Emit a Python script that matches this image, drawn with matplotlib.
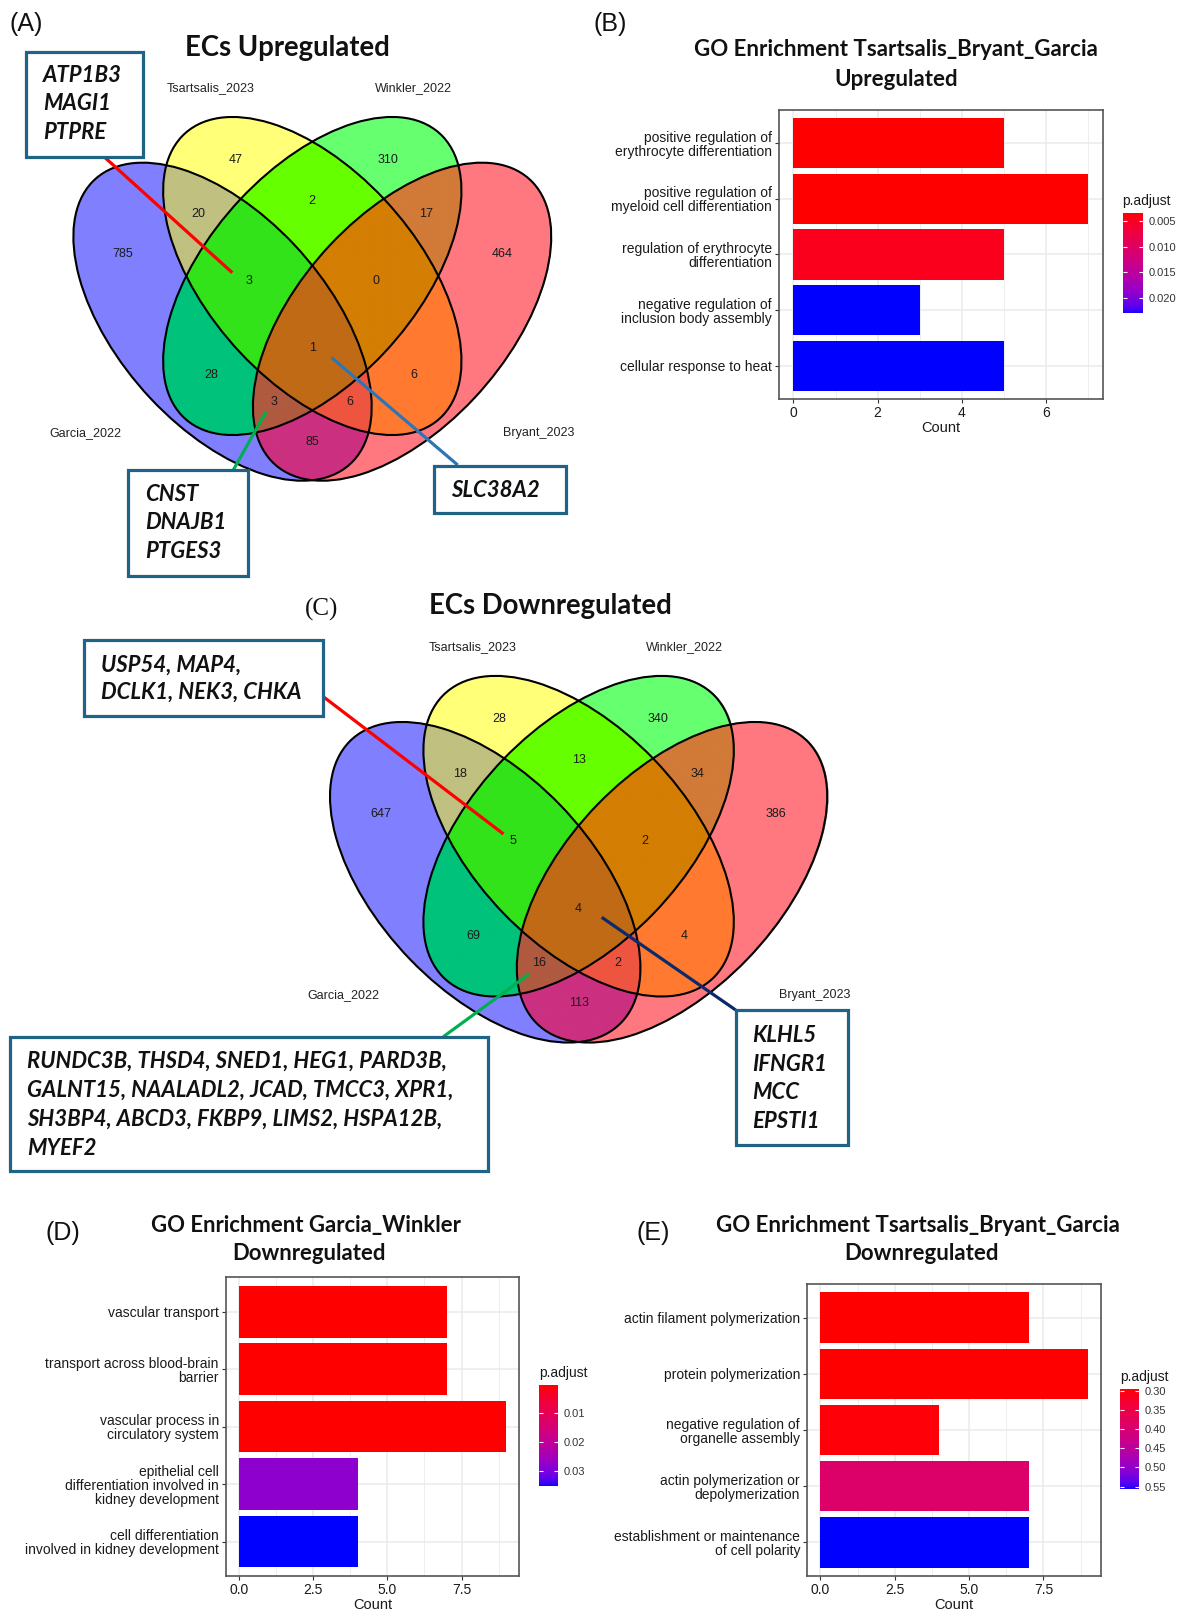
import numpy as np
import matplotlib
matplotlib.use("Agg")
import matplotlib.pyplot as plt
from matplotlib.patches import Ellipse, Rectangle
from matplotlib.colors import ListedColormap, Normalize, to_rgb
from matplotlib.cm import ScalarMappable

W, H = 1177, 1610

# ---------------------------------------------------------------- data
set_keys = ["G", "T", "W", "B"]
set_names = ["Garcia_2022", "Tsartsalis_2023", "Winkler_2022", "Bryant_2023"]
region_keys = ["G", "T", "W", "B", "GT", "TW", "WB", "GW", "TB", "GB",
               "GTW", "TWB", "GWB", "GTB", "GTWB"]
up_counts = [785, 47, 310, 464, 20, 2, 17, 28, 6, 85, 3, 0, 3, 6, 1]
down_counts = [647, 28, 340, 386, 18, 13, 34, 69, 4, 113, 5, 2, 16, 2, 4]

up_genes_gtw = ["ATP1B3", "MAGI1", "PTPRE"]
up_genes_gwb = ["CNST", "DNAJB1", "PTGES3"]
up_genes_all = ["SLC38A2"]
down_genes_gtw = ["USP54", "MAP4", "DCLK1", "NEK3", "CHKA"]
down_genes_gwb = ["RUNDC3B", "THSD4", "SNED1", "HEG1", "PARD3B",
                  "GALNT15", "NAALADL2", "JCAD", "TMCC3", "XPR1",
                  "SH3BP4", "ABCD3", "FKBP9", "LIMS2", "HSPA12B", "MYEF2"]
down_genes_all = ["KLHL5", "IFNGR1", "MCC", "EPSTI1"]

go_up_terms = ["positive regulation of\nerythrocyte differentiation",
               "positive regulation of\nmyeloid cell differentiation",
               "regulation of erythrocyte\ndifferentiation",
               "negative regulation of\ninclusion body assembly",
               "cellular response to heat"]
go_up_count = [5, 7, 5, 3, 5]
go_up_padj = [0.0034, 0.0034, 0.0046, 0.0231, 0.0231]

go_gw_terms = ["vascular transport",
               "transport across blood-brain\nbarrier",
               "vascular process in\ncirculatory system",
               "epithelial cell\ndifferentiation involved in\nkidney development",
               "cell differentiation\ninvolved in kidney development"]
go_gw_count = [7, 7, 9, 4, 4]
go_gw_padj = [0.0004, 0.0004, 0.0004, 0.028, 0.035]

go_tbg_terms = ["actin filament polymerization",
                "protein polymerization",
                "negative regulation of\norganelle assembly",
                "actin polymerization or\ndepolymerization",
                "establishment or maintenance\nof cell polarity"]
go_tbg_count = [7, 9, 4, 7, 7]
go_tbg_padj = [0.296, 0.296, 0.30, 0.39, 0.557]

# ---------------------------------------------------------------- styling
region_colors = {"G": "#8080FF", "T": "#FFFF78", "W": "#66FF70", "B": "#FF7880",
                 "GT": "#C0C080", "TW": "#66FF00", "WB": "#D27A38", "GW": "#00C27A",
                 "TB": "#FF7A30", "GB": "#CC3080", "GTW": "#33E31A", "TWB": "#D47E04",
                 "GWB": "#B05A40", "GTB": "#EE5540", "GTWB": "#C06A16"}

# four-ellipse layout (diagram units)
ELL_DX, ELL_DY, ELL_TILT = 0.957, -0.457, 45.0
ell_center = {"G": (-ELL_DX, ELL_DY), "T": (0.0, 0.0), "W": (0.0, 0.0), "B": (ELL_DX, ELL_DY)}
ell_angle = {"G": -ELL_TILT, "T": -ELL_TILT, "W": ELL_TILT, "B": ELL_TILT}
SEMI_A, SEMI_B = 1.97, 1.085
label_pos = {"G": (-2.024, 0.22), "T": (-0.812, 1.16), "W": (0.812, 1.16), "B": (2.024, 0.22),
             "GT": (-1.218, 0.62), "TW": (0.0, 0.753), "WB": (1.218, 0.62),
             "GTW": (-0.676, -0.047), "TWB": (0.676, -0.047), "GTWB": (0.0, -0.723),
             "GW": (-1.078, -0.99), "TB": (1.078, -0.99),
             "GWB": (-0.404, -1.257), "GTB": (0.404, -1.257), "GB": (0.0, -1.657)}
set_label_pos = {"G": (-2.415, -1.573), "T": (-1.082, 1.877),
                 "W": (1.082, 1.877), "B": (2.415, -1.573)}

BOX_EC = "#1F6386"
SANS = ["Liberation Sans", "DejaVu Sans"]
TITLE_FONT = ["Lato", "DejaVu Sans"]

fig = plt.figure(figsize=(W / 100, H / 100), dpi=100)
fig.patch.set_facecolor("white")


def px_rect(x0, y0, x1, y1):
    return [x0 / W, 1 - y1 / H, (x1 - x0) / W, (y1 - y0) / H]


renderer = fig.canvas.get_renderer()


def fit_width(t, width_px):
    w = t.get_window_extent(renderer).width
    t.set_fontsize(t.get_fontsize() * width_px / w)
    return t.get_fontsize()


# overlay layer in pixel coordinates for titles, boxes and leader lines
ov = fig.add_axes([0, 0, 1, 1], zorder=5)
ov.set_xlim(0, W)
ov.set_ylim(H, 0)
ov.axis("off")


# ---------------------------------------------------------------- colour scale (Lab interpolation)
_M = np.array([[0.4124, 0.3576, 0.1805], [0.2126, 0.7152, 0.0722], [0.0193, 0.1192, 0.9505]])
_WHITE = np.array([0.95047, 1.0, 1.08883])


def srgb_to_lab(c):
    c = np.asarray(c, float)
    lin = np.where(c <= 0.04045, c / 12.92, ((c + 0.055) / 1.055) ** 2.4)
    xyz = _M @ lin / _WHITE
    f = np.where(xyz > 0.008856, np.cbrt(xyz), 7.787 * xyz + 16 / 116)
    return np.array([116 * f[1] - 16, 500 * (f[0] - f[1]), 200 * (f[1] - f[2])])


def lab_to_srgb(lab):
    L, a, b = lab
    fy = (L + 16) / 116
    f = np.array([fy + a / 500, fy, fy - b / 200])
    xyz = np.where(f ** 3 > 0.008856, f ** 3, (f - 16 / 116) / 7.787) * _WHITE
    lin = np.clip(np.linalg.inv(_M) @ xyz, 0, None)
    s = np.where(lin <= 0.0031308, 12.92 * lin, 1.055 * lin ** (1 / 2.4) - 0.055)
    return np.clip(s, 0, 1)


lab_lo, lab_hi = srgb_to_lab(to_rgb("red")), srgb_to_lab(to_rgb("blue"))
padj_cmap = ListedColormap([lab_to_srgb(lab_lo + (lab_hi - lab_lo) * t) for t in np.linspace(0, 1, 256)])


# ---------------------------------------------------------------- Venn diagrams
def draw_venn(cx, cy, sx, sy, counts):
    ux0, ux1, uy0, uy1 = -2.9, 2.9, -2.25, 2.25
    ax = fig.add_axes(px_rect(cx + ux0 * sx, cy - uy1 * sy, cx + ux1 * sx, cy - uy0 * sy), zorder=1)
    ax.set_xlim(ux0, ux1)
    ax.set_ylim(uy0, uy1)
    ax.axis("off")

    gx = np.linspace(ux0, ux1, 1600)
    gy = np.linspace(uy0, uy1, 1300)
    X, Y = np.meshgrid(gx, gy)
    inside = {}
    for k in set_keys:
        ex, ey = ell_center[k]
        th = np.deg2rad(ell_angle[k])
        dx, dy = X - ex, Y - ey
        s = dx * np.cos(th) + dy * np.sin(th)
        t = -dx * np.sin(th) + dy * np.cos(th)
        inside[k] = (s / SEMI_A) ** 2 + (t / SEMI_B) ** 2 <= 1
    img = np.zeros(X.shape + (4,))
    for key in region_keys:
        m = np.ones(X.shape, bool)
        for k in set_keys:
            m &= inside[k] if k in key else ~inside[k]
        img[m] = list(to_rgb(region_colors[key])) + [1.0]
    ax.imshow(img, extent=[ux0, ux1, uy0, uy1], origin="lower", aspect="auto", zorder=1)

    for k in set_keys:
        ax.add_patch(Ellipse(ell_center[k], 2 * SEMI_A, 2 * SEMI_B, angle=ell_angle[k],
                             fill=False, ec="black", lw=1.5, zorder=2))
    for key, n in zip(region_keys, counts):
        x, y = label_pos[key]
        ax.text(x, y, str(n), ha="center", va="center", fontsize=9, family=SANS,
                color="#1a1a1a", zorder=3)
    for k, name in zip(set_keys, set_names):
        x, y = set_label_pos[k]
        ax.text(x, y, name, ha="center", va="center", fontsize=9, family=SANS,
                color="#222222", zorder=3)
    return ax


draw_venn(312.3, 276.0, 93.8, 100.0, up_counts)
draw_venn(578.6, 836.2, 97.6, 100.8, down_counts)


def gene_box(x0, y0, x1, y1, lines, tx, line_ys, fs):
    ov.add_patch(Rectangle((x0, y0), x1 - x0, y1 - y0, fc="white", ec=BOX_EC, lw=2.3, zorder=6))
    for txt, y in zip(lines, line_ys):
        ov.text(tx, y, txt, ha="left", va="center", fontsize=fs, family=TITLE_FONT,
                fontweight="bold", fontstyle="italic", color="#111111", zorder=7)


def leader(p0, p1, color):
    ov.plot([p0[0], p1[0]], [p0[1], p1[1]], color=color, lw=2.3, solid_capstyle="butt", zorder=4)


def rows_text(genes, sizes):
    out, i = [], 0
    for j, n in enumerate(sizes):
        out.append(", ".join(genes[i:i + n]) + ("," if j < len(sizes) - 1 else ""))
        i += n
    return out


# size for gene annotation text
probe = ov.text(0, 0, rows_text(down_genes_gwb, [5, 11])[0], fontsize=14, family=TITLE_FONT,
                fontweight="bold", fontstyle="italic")
gene_fs = fit_width(probe, 420)
probe.remove()

# panel A annotations
leader((104, 156.7), (232.3, 272.7), "#FF0000")
leader((233.3, 470), (266, 411.7), "#00B050")
leader((331.7, 357.7), (457.7, 465), "#2E75B6")
gene_box(26, 52.3, 143.3, 156.7, up_genes_gtw, 42.7, [75, 104, 132.7], gene_fs)
gene_box(128.3, 470, 248.3, 575.5, up_genes_gwb, 145, [494, 522.7, 551.3], gene_fs)
gene_box(434.3, 466, 565.7, 512.7, up_genes_all, 451, [490], gene_fs)

# panel C annotations
leader((323.3, 696.7), (503.5, 834), "#FF0000")
leader((443.3, 1036.7), (529.3, 974), "#00B050")
leader((601.7, 917.3), (735.7, 1010), "#0B2A6B")
gene_box(84.3, 640, 323.3, 716, rows_text(down_genes_gtw, [2, 3]), 101, [665, 692.7], gene_fs)
gene_box(10, 1036.7, 488.3, 1171, rows_text(down_genes_gwb, [5, 5, 5, 1]),
         26.7, [1061.7, 1090, 1119, 1148], gene_fs)
gene_box(735.7, 1010, 847.7, 1145, down_genes_all, 751.7, [1035, 1064.3, 1092.7, 1121], gene_fs)

# Venn titles
t = ov.text(287.5, 48, "ECs Upregulated", ha="center", va="center", fontsize=20,
            family=TITLE_FONT, fontweight="bold", color="#111111")
fit_width(t, 206)
t = ov.text(550, 606, "ECs Downregulated", ha="center", va="center", fontsize=20,
            family=TITLE_FONT, fontweight="bold", color="#111111")
fit_width(t, 244)

# panel letters
for lab, x, y, fam in [("(A)", 26, 24, SANS), ("(B)", 610, 24, SANS),
                       ("(C)", 322, 609, ["Liberation Serif", "DejaVu Serif"]),
                       ("(D)", 62.5, 1233, SANS), ("(E)", 653, 1233, SANS)]:
    ov.text(x, y, lab, ha="center", va="center", fontsize=18, family=fam, color="#111111")


# ---------------------------------------------------------------- GO enrichment bar charts
def go_bar(rect, terms, counts, padj, xticks, xfmt, cbar_rect, cticks, cfmt,
           title1, title2, tpos1, tpos2, twidth):
    ax = fig.add_axes(px_rect(*rect), zorder=2)
    n = len(terms)
    ypos = np.arange(n, 0, -1)
    norm = Normalize(min(padj), max(padj))
    ax.barh(ypos, counts, height=0.9, color=padj_cmap(norm(np.array(padj))), lw=0, zorder=3)
    xmax = max(counts)
    ax.set_xlim(-0.05 * xmax, 1.05 * xmax)
    ax.set_ylim(0.4, n + 0.6)
    ax.set_xticks(xticks)
    ax.set_xticklabels([xfmt.format(v) for v in xticks])
    step = xticks[1] - xticks[0]
    ax.set_xticks(np.arange(xticks[0] + step / 2, 1.05 * xmax, step), minor=True)
    ax.set_yticks(ypos)
    ax.set_yticklabels(terms)
    for lbl in ax.get_yticklabels():
        lbl.set_linespacing(1.0)
    ax.grid(which="major", color="#EBEBEB", lw=1.1, zorder=0)
    ax.grid(which="minor", axis="x", color="#EBEBEB", lw=0.6, zorder=0)
    ax.set_axisbelow(True)
    for sp in ax.spines.values():
        sp.set_color("#555555")
        sp.set_linewidth(1.2)
    ax.tick_params(which="major", length=3, color="#333333", labelsize=10,
                   labelcolor="#1a1a1a", pad=2)
    ax.tick_params(which="minor", length=0)
    for lbl in ax.get_xticklabels() + ax.get_yticklabels():
        lbl.set_family(SANS)
    ax.set_xlabel("Count", fontsize=10.5, family=SANS, color="#1a1a1a", labelpad=1)

    cax = fig.add_axes(px_rect(*cbar_rect), zorder=2)
    cb = fig.colorbar(ScalarMappable(norm=norm, cmap=padj_cmap), cax=cax)
    cb.outline.set_visible(False)
    cax.invert_yaxis()
    cb.set_ticks(cticks)
    cb.set_ticklabels([cfmt.format(v) for v in cticks])
    cax.tick_params(which="both", direction="in", length=3, color="white", width=0.8,
                    left=True, right=True, labelsize=8, labelcolor="#333333", pad=4)
    cax.minorticks_off()
    for lbl in cax.get_yticklabels():
        lbl.set_family(SANS)
    ov.text(cbar_rect[0], cbar_rect[1] - 12, "p.adjust", ha="left", va="center",
            fontsize=10, family=SANS, color="#1a1a1a")

    t1 = ov.text(tpos1[0], tpos1[1], title1, ha="center", va="center", fontsize=16,
                 family=TITLE_FONT, fontweight="bold", color="#111111")
    fs = fit_width(t1, twidth)
    ov.text(tpos2[0], tpos2[1], title2, ha="center", va="center", fontsize=fs,
            family=TITLE_FONT, fontweight="bold", color="#111111")


go_bar((778.7, 110, 1102.8, 399), go_up_terms, go_up_count, go_up_padj,
       [0, 2, 4, 6], "{:.0f}", (1122.5, 213.3, 1142.7, 313.3),
       [0.005, 0.010, 0.015, 0.020], "{:.3f}",
       "GO Enrichment Tsartsalis_Bryant_Garcia", "Upregulated",
       (896.4, 50), (896.6, 80), 404)

go_bar((225.8, 1277.3, 519.4, 1576), go_gw_terms, go_gw_count, go_gw_padj,
       [0, 2.5, 5.0, 7.5], "{:.1f}", (539, 1385, 557.8, 1486),
       [0.01, 0.02, 0.03], "{:.2f}",
       "GO Enrichment Garcia_Winkler", "Downregulated",
       (306.4, 1225), (309, 1253), 312)

go_bar((807, 1284, 1101.4, 1576), go_tbg_terms, go_tbg_count, go_tbg_padj,
       [0, 2.5, 5.0, 7.5], "{:.1f}", (1119.8, 1389.3, 1139.2, 1489.3),
       [0.30, 0.35, 0.40, 0.45, 0.50, 0.55], "{:.2f}",
       "GO Enrichment Tsartsalis_Bryant_Garcia", "Downregulated",
       (918, 1225), (921.3, 1253), 405)

fig.savefig("out.png", dpi=100, facecolor="white")
